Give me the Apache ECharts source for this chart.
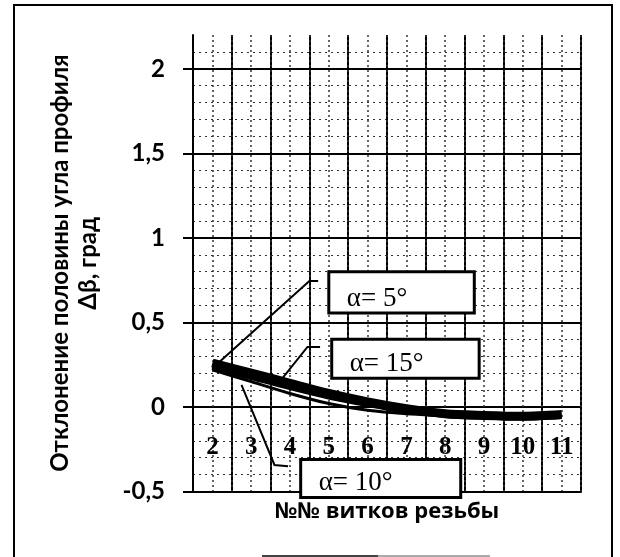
<!DOCTYPE html>
<html><head><meta charset="utf-8">
<script src="https://cdn.jsdelivr.net/npm/echarts@6/dist/echarts.min.js"></script>
<style>html,body{margin:0;padding:0;background:#fff}#c{width:620px;height:557px}</style>
</head><body><div id="c"></div>
<script>
// ---- data ----
const categories = ['2', '3', '4', '5', '6', '7', '8', '9', '10', '11'];
const alpha5  = [0.26, 0.20, 0.14, 0.08, 0.03, -0.01, -0.04, -0.05, -0.055, -0.045];
const alpha15 = [0.24, 0.18, 0.12, 0.065, 0.02, -0.02, -0.045, -0.055, -0.06, -0.05];
const alpha10 = [0.22, 0.15, 0.08, 0.02, -0.02, -0.04, -0.05, -0.06, -0.06, -0.05];
const yTicks = [-0.5, 0, 0.5, 1, 1.5, 2];
const seriesNames = ['α= 5°', 'α= 15°', 'α= 10°'];
const yTitle = 'Отклонение половины угла профиля\nΔβ, град';
const xTitle = '№№ витков резьбы';

const chart = echarts.init(document.getElementById('c'), null, {renderer: 'canvas'});
const major = {color: '#000', width: 2, type: 'solid'};
const minorDash = {color: '#333', width: 1, type: [2, 4]};

chart.setOption({
  animation: false,
  backgroundColor: '#fff',
  grid: {left: 193, right: 39, top: 35, bottom: 65.5, containLabel: false, outerBoundsMode: 'none'},
  xAxis: [{
    type: 'category', data: categories, boundaryGap: true, position: 'bottom',
    axisLine: {show: true, onZero: false, lineStyle: {color: '#000', width: 2}},
    axisTick: {show: false},
    axisLabel: {show: false},
    splitLine: {show: true, lineStyle: major},
    name: xTitle, nameLocation: 'middle', nameGap: 9, nameMoveOverlap: false,
    nameTextStyle: {color: '#000', fontFamily: 'Open Sans', fontWeight: 'bold', fontSize: 22, verticalAlign: 'top'}
  }, {
    type: 'value', min: 0, max: 20, interval: 1, position: 'top',
    axisLine: {show: false}, axisTick: {show: false}, axisLabel: {show: false},
    splitLine: {show: true, lineStyle: {color: '#333', width: 1.5, type: [2, 3]}}
  }],
  yAxis: [{
    type: 'value', min: -0.5, max: 2.2, interval: 0.5,
    axisLine: {show: true, onZero: false, lineStyle: {color: '#000', width: 2}},
    axisTick: {show: true, inside: false, length: 10, customValues: yTicks, lineStyle: {color: '#000', width: 2}},
    axisLabel: {margin: 28, customValues: yTicks, color: '#000', fontFamily: 'Lato', fontWeight: 'bold', fontSize: 24,
      formatter: v => (yTicks.indexOf(v) >= 0 ? String(v).replace('.', ',') : '')},
    splitLine: {show: true, lineStyle: {color: ['#000', '#000', '#000', '#000', '#000', '#000', 'rgba(0,0,0,0)'], width: 2}},
    minorTick: {show: false, splitNumber: 5},
    minorSplitLine: {show: true, lineStyle: minorDash},
    name: yTitle, nameLocation: 'middle', nameRotate: 90, nameGap: 91, nameMoveOverlap: false,
    nameTextStyle: {color: '#000', fontFamily: 'Lato', fontWeight: 'bold', fontSize: 24, lineHeight: 28, align: 'center'}
  }],
  series: [
    {name: seriesNames[0], type: 'line', data: alpha5, smooth: 0.3, symbol: 'none', lineStyle: {color: '#000', width: 9}, z: 5},
    {name: seriesNames[1], type: 'line', data: alpha15, smooth: 0.3, symbol: 'none', lineStyle: {color: '#000', width: 7}, z: 5},
    {name: seriesNames[2], type: 'line', data: alpha10, smooth: 0.3, symbol: 'none', lineStyle: {color: '#000', width: 3}, z: 5}
  ]
});

// ---- category tick labels, placed through the category axis between 0 and -0.5 ----
const labelLevel = -0.24;
const g = [];
categories.forEach(c => {
  const p = chart.convertToPixel({xAxisIndex: 0, yAxisIndex: 0}, [c, labelLevel]);
  g.push({type: 'text', x: p[0], y: p[1], style: {text: c, fill: '#000',
    font: 'bold 25px "Liberation Serif"', align: 'center', verticalAlign: 'middle'}, z: 50});
});

// ---- annotations (data labels with leader lines), placed in axis coordinates ----
const boxes = [
  {x0: 7.0, x1: 14.5, y0: 0.80, y1: 0.556},
  {x0: 7.15, x1: 14.75, y0: 0.40, y1: 0.17},
  {x0: 5.55, x1: 13.8, y0: -0.31, y1: -0.535}
];
const leaders = [
  [[1.3, 0.26], [6.0, 0.745], [6.45, 0.745]],
  [[4.5, 0.155], [5.9, 0.355], [6.55, 0.355]],
  [[2.5, 0.13], [4.2, -0.343], [4.9, -0.35]]
];
const px = p => chart.convertToPixel({xAxisIndex: 1, yAxisIndex: 0}, p);
g.push({type: 'rect', shape: {x: 14, y: 5, width: 598, height: 560}, style: {fill: 'none', stroke: '#000', lineWidth: 2}, z: 100});
g.push({type: 'line', shape: {x1: 262, y1: 556, x2: 378, y2: 556}, style: {stroke: '#444', lineWidth: 2}, z: 100});
g.push({type: 'line', shape: {x1: 378, y1: 556, x2: 490, y2: 556}, style: {stroke: '#aaa', lineWidth: 2}, z: 100});
boxes.forEach((b, i) => {
  const a = px([b.x0, b.y0]), c = px([b.x1, b.y1]);
  g.push({type: 'rect', shape: {x: a[0], y: a[1], width: c[0] - a[0], height: c[1] - a[1]},
    style: {fill: '#fff', stroke: '#000', lineWidth: 3}, z: 110});
  g.push({type: 'text', x: a[0] + 18, y: c[1] - 1, style: {text: seriesNames[i], fill: '#000',
    font: '27px "Liberation Serif"', align: 'left', verticalAlign: 'bottom'}, z: 111});
  g.push({type: 'polyline', shape: {points: leaders[i].map(px)}, style: {stroke: '#000', lineWidth: 2, fill: 'none'}, z: 109});
});
chart.setOption({graphic: g});
</script></body></html>
